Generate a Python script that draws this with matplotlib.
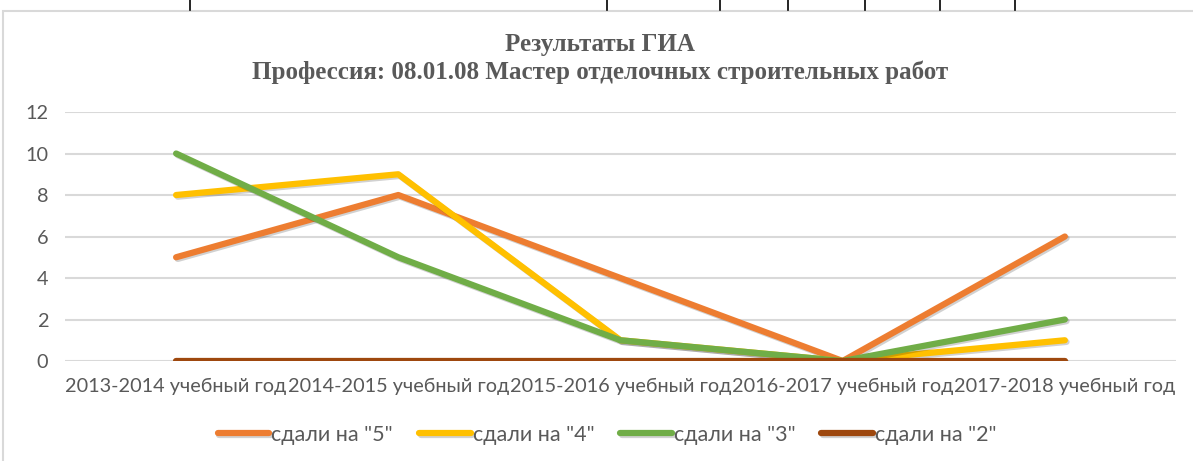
import matplotlib.pyplot as plt
import matplotlib.patheffects as pe
from matplotlib.lines import Line2D
from matplotlib.patches import Rectangle
import numpy as np

# ── Data ──
years = ["2013-2014 учебный год", "2014-2015 учебный год", "2015-2016 учебный год",
         "2016-2017 учебный год", "2017-2018 учебный год"]
grade_5 = [5, 8, 4, 0, 6]
grade_4 = [8, 9, 1, 0, 1]
grade_3 = [10, 5, 1, 0, 2]
grade_2 = [0, 0, 0, 0, 0]

series = [
    ('сдали на "5"', grade_5, "#ED7D31"),
    ('сдали на "4"', grade_4, "#FFC000"),
    ('сдали на "3"', grade_3, "#70AD47"),
    ('сдали на "2"', grade_2, "#9E480E"),
]

fig = plt.figure(figsize=(11.93, 4.61), dpi=100)
ax = fig.add_axes([0.0545, 0.2169, 0.9312, 0.5401])

# ── Chart frame + table lines from the document above ──
fig.patches.append(Rectangle((3 / 1193, -0.1), 1.2, 1 - 11 / 461 + 0.1,
                             transform=fig.transFigure, fill=False,
                             edgecolor="#D9D9D9", lw=1.5))
for xp in [190, 607, 720, 788, 865, 940, 1015]:
    fig.add_artist(Line2D([xp / 1193, xp / 1193], [1 - 10 / 461, 1],
                          transform=fig.transFigure, color="black", lw=1.2))

x = np.arange(len(years))
shadow = [pe.SimpleLineShadow(offset=(1.2, -1.2), shadow_color="#000000", alpha=0.18),
          pe.Normal()]
for label, vals, color in series:
    ax.plot(x, vals, color=color, lw=4.5, solid_capstyle="round",
            solid_joinstyle="round", label=label, path_effects=shadow)

ax.set_xlim(-0.5, len(years) - 0.5)
ax.set_ylim(0, 12)
ax.set_yticks(range(0, 13, 2))
ax.set_xticks(x)
ax.set_xticklabels(years)
ax.yaxis.grid(True, color="#D9D9D9", lw=1.5)
ax.set_axisbelow(True)
for s in ax.spines.values():
    s.set_visible(False)
ax.tick_params(length=0, colors="#595959", labelsize=14.3, pad=12)
for t in ax.get_xticklabels() + ax.get_yticklabels():
    t.set_family("Lato")
ax.tick_params(axis="y", pad=12)

title_kw = dict(ha="center", va="center", family="Liberation Serif",
                fontweight="bold", fontsize=18, color="#595959")
fig.text(0.503, 1 - 45 / 461, "Результаты ГИА", **title_kw)
fig.text(0.503, 1 - 72 / 461, "Профессия: 08.01.08 Мастер отделочных строительных работ",
         **title_kw)

leg = fig.legend(loc="center", bbox_to_anchor=(0.509, 1 - 435 / 461), ncol=4,
                 frameon=False, handlelength=2.4, handletextpad=0.1,
                 columnspacing=1.2, prop={"family": "Lato", "size": 15.5})
for t in leg.get_texts():
    t.set_color("#595959")

plt.savefig("out.png", dpi=100)
